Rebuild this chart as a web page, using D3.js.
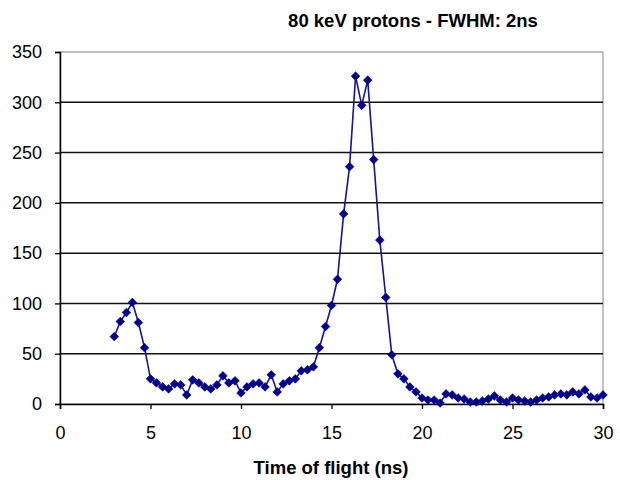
<!DOCTYPE html>
<html><head><meta charset="utf-8">
<script src="https://cdn.jsdelivr.net/npm/d3@7"></script>
<style>body{margin:0;background:#fff}svg{display:block}</style>
</head><body>
<script>
const title = "80 keV protons - FWHM: 2ns";
const xTitle = "Time of flight (ns)";
const xTicks = [0, 5, 10, 15, 20, 25, 30];
const yTicks = [0, 50, 100, 150, 200, 250, 300, 350];
const times = [3.0,3.33,3.67,4.0,4.33,4.67,5.0,5.33,5.67,6.0,6.33,6.67,7.0,7.33,7.67,8.0,8.33,8.67,9.0,9.33,9.67,10.0,10.33,10.67,11.0,11.33,11.67,12.0,12.33,12.67,13.0,13.33,13.67,14.0,14.33,14.67,15.0,15.33,15.67,16.0,16.33,16.67,17.0,17.33,17.67,18.0,18.33,18.67,19.0,19.33,19.67,20.0,20.33,20.67,21.0,21.33,21.67,22.0,22.33,22.67,23.0,23.33,23.67,24.0,24.33,24.67,25.0,25.33,25.67,26.0,26.33,26.67,27.0,27.33,27.67,28.0,28.33,28.67,29.0,29.33,29.67,30.0];
const counts = [67,82,91,101,81,56,25,21,17,15,20,19,9,24,21,17,15,19,28,21,23,11,17,20,21,17,29,12,20,23,25,33,34,37,56,77,98,124,189,236,326,297,322,243,163,106,49,30,25,17,12,6,4,4,1,10,9,6,5,2,2,3,5,8,4,2,6,4,3,2,4,6,7,9,10,9,12,10,14,7,6,9];

const W = 620, H = 480;
const m = {left: 60, right: 17, top: 52, bottom: 76};
const svg = d3.select("body").append("svg").attr("width", W).attr("height", H);
const x = d3.scaleLinear().domain([0, 30]).range([m.left, W - m.right]);
const y = d3.scaleLinear().domain([0, 350]).range([H - m.bottom, m.top]);
const font = "Liberation Sans, Arial, sans-serif";

// plot area border (gray)
svg.append("rect").attr("x", x(0)).attr("y", y(350)).attr("width", x(30) - x(0)).attr("height", y(0) - y(350))
  .attr("fill", "none").attr("stroke", "#999").attr("stroke-width", 1.2);

// gridlines
svg.append("g").selectAll("line").data(yTicks.filter(d => d > 0 && d < 350)).join("line")
  .attr("x1", x(0)).attr("x2", x(30)).attr("y1", d => y(d)).attr("y2", d => y(d))
  .attr("stroke", "#111").attr("stroke-width", 1.5);

// y axis
const yAxis = svg.append("g").attr("transform", `translate(${x(0)},0)`)
  .call(d3.axisLeft(y).tickValues(yTicks).tickSize(5).tickPadding(13));
yAxis.select(".domain").attr("stroke", "#000").attr("stroke-width", 1.5);
yAxis.selectAll(".tick line").attr("stroke", "#000").attr("stroke-width", 1.3);
yAxis.selectAll("text").attr("font-family", font).attr("font-size", 18).attr("fill", "#000");

// x axis
const xAxis = svg.append("g").attr("transform", `translate(0,${y(0)})`)
  .call(d3.axisBottom(x).tickValues(xTicks).tickSize(5).tickPadding(17));
xAxis.select(".domain").attr("stroke", "#000").attr("stroke-width", 1.5);
xAxis.selectAll(".tick line").attr("stroke", "#000").attr("stroke-width", 1.3);
xAxis.selectAll("text").attr("font-family", font).attr("font-size", 18).attr("fill", "#000");

// line
const data = times.map((t, i) => ({t, v: counts[i]}));
svg.append("path").datum(data)
  .attr("fill", "none").attr("stroke", "#14149a").attr("stroke-width", 1.6)
  .attr("d", d3.line().x(d => x(d.t)).y(d => y(d.v)));

// diamond markers
const sym = d3.symbol().type(d3.symbolDiamond2).size(48);
svg.append("g").selectAll("path").data(data).join("path")
  .attr("transform", d => `translate(${x(d.t)},${y(d.v)})`)
  .attr("d", sym).attr("fill", "#00008c").attr("stroke", "#00008c").attr("stroke-width", 0.6);

// titles
svg.append("text").attr("x", 413).attr("y", 27).attr("text-anchor", "middle")
  .attr("font-family", font).attr("font-weight", "bold").attr("font-size", 18.5).text(title);
svg.append("text").attr("x", 331).attr("y", 474).attr("text-anchor", "middle")
  .attr("font-family", font).attr("font-weight", "bold").attr("font-size", 18.5).text(xTitle);
</script>
</body></html>
